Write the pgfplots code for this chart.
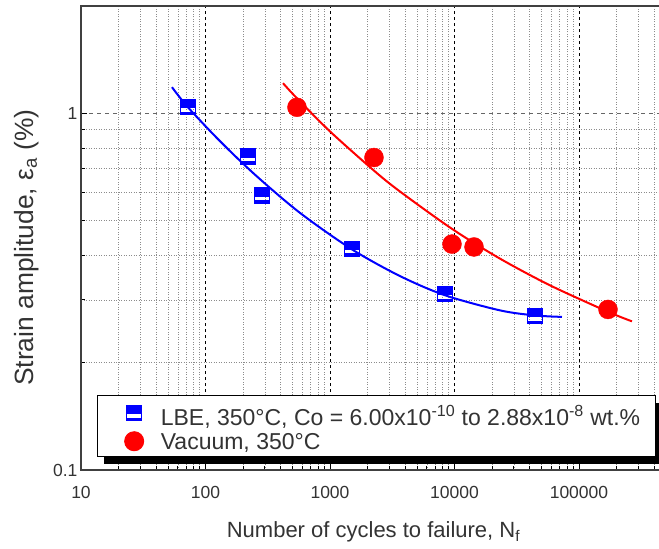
\documentclass[border=0pt]{standalone}
\usepackage{fontspec}
\setmainfont{Liberation Sans}
\usepackage{pgfplots}
\pgfplotsset{compat=1.18}
\usetikzlibrary{shadows}
\pgfdeclareplotmark{halfsq}{%
 \pgfpathrectangle{\pgfpoint{-\pgfplotmarksize}{-\pgfplotmarksize}}{\pgfpoint{2\pgfplotmarksize}{2\pgfplotmarksize}}%
 \pgfusepathqstroke
 \pgfpathrectangle{\pgfpoint{-\pgfplotmarksize}{-0.15\pgfplotmarksize}}{\pgfpoint{2\pgfplotmarksize}{1.15\pgfplotmarksize}}%
 \pgfusepathqfill
 \pgfpathrectangle{\pgfpoint{-\pgfplotmarksize}{-\pgfplotmarksize}}{\pgfpoint{2\pgfplotmarksize}{0.4\pgfplotmarksize}}%
 \pgfusepathqfill}
\begin{document}
\begin{tikzpicture}
\begin{axis}[
 scale only axis, width=585pt, height=464pt,
 xmode=log, ymode=log, xmin=10, xmax=5e5, ymin=0.1, ymax=2,
 xtick={10,100,1000,10000,100000},
 xticklabels={10,100,1000,10000,100000},
 minor xtick={20,30,40,50,60,70,80,90,200,300,400,500,600,700,800,900,2000,3000,4000,5000,6000,7000,8000,9000,20000,30000,40000,50000,60000,70000,80000,90000,200000,300000,400000},
 ytick={0.1,1}, yticklabels={0.1,1},
 minor ytick={0.2,0.3,0.4,0.5,0.6,0.7,0.8,0.9,2},
 grid=both,
 major x grid style={black, dash pattern=on 3pt off 3pt, line width=0.9pt},
 major y grid style={black!60, dash pattern=on 4pt off 4pt, line width=1.2pt},
 minor grid style={black!45, dash pattern=on 1pt off 1.5pt, line width=0.6pt},
 tick align=inside, xtick pos=left, ytick pos=left,
 major tick length=6pt, minor tick length=4pt,
 every tick/.style={black, line width=0.8pt},
 axis line style={line width=1.6pt, black!75},
 /pgf/number format/assume math mode=true,
 tick label style={font=\fontsize{17.5}{20}\selectfont, text=black!80},
 xticklabel style={yshift=-13pt},
 xlabel={Number of cycles to failure, N\textsubscript{f}},
 ylabel={Strain amplitude, ε\textsubscript{a} (\%)},
 xlabel style={font=\fontsize{22}{26}\selectfont, text=black!80, at={(axis description cs:0.5,0)}, anchor=base, yshift=-67pt},
 ylabel style={font=\fontsize{26.4}{30}\selectfont, text=black!80, at={(axis description cs:-0.082,0.479)}, anchor=base},
 legend style={at={(axis description cs:0.0274,0.028)}, anchor=south west,
   draw=black, line width=1pt, fill=white,
   drop shadow={shadow xshift=6pt, shadow yshift=-7pt, opacity=1, fill=black},
   font=\fontsize{23}{26}\selectfont, text=black!80,
   nodes={inner xsep=3pt, inner ysep=0.5pt},
   row sep=4pt, column sep=0pt, inner xsep=12pt, inner ysep=5pt},
 legend cell align=left,
 legend image code/.code={\path (0pt,0pt) (47pt,0pt); \draw[#1] plot coordinates {(24pt,1pt)};},
]
% fitted curves
\addplot[blue, line width=2pt, smooth, forget plot] coordinates {
 (53.8,1.184) (72.3,1.040) (130.8,0.8356) (249.8,0.673) (574.1,0.526) (1502,0.4155) (3649,0.3498) (8388,0.309) (23200,0.2803) (44320,0.2713) (73030,0.2687)};
\addplot[red, line width=2pt, smooth, forget plot] coordinates {
 (419.3,1.215) (543.1,1.102) (1000,0.890) (2256,0.691) (3649,0.6038) (9548,0.4744) (23200,0.3915) (58490,0.3295) (171000,0.2778) (266500,0.2611)};
% data
\addplot[only marks, mark=halfsq, mark size=7.5pt, draw=blue, fill=blue, line width=1.3pt] coordinates {
 (72,1.04) (219,0.757) (284,0.588) (1503,0.417) (8390,0.311) (44300,0.270)};
\addlegendentry{\rule{0pt}{24.5pt}LBE, 350°C, Co = 6.00x10\textsuperscript{-10} to 2.88x10\textsuperscript{-8} wt.\%}
\addplot[only marks, mark=*, mark size=9.5pt, draw=red, fill=red] coordinates {
 (543,1.04) (2256,0.752) (9550,0.430) (14350,0.422) (171000,0.282)};
\addlegendentry{Vacuum, 350°C}
\end{axis}
\pgfresetboundingbox
\useasboundingbox (-81pt,-79pt) rectangle (578pt,470pt);
\end{tikzpicture}
\end{document}
